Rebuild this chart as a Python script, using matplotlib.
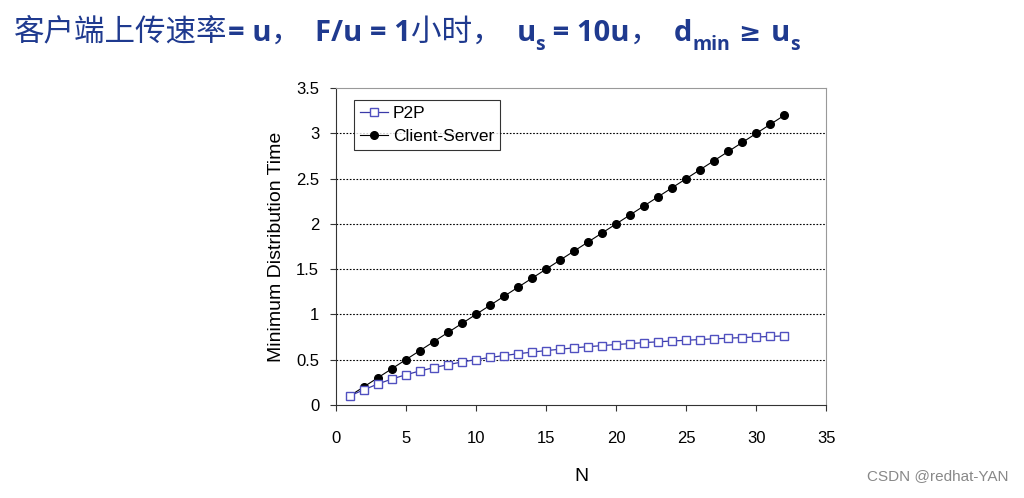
import matplotlib
matplotlib.use("Agg")
import matplotlib.pyplot as plt

plt.rcParams["font.family"] = ["Liberation Sans", "DejaVu Sans"]

n_peers = list(range(1, 33))
p2p_time = [0.100, 0.167, 0.231, 0.286, 0.333, 0.375, 0.412, 0.444, 0.474, 0.500,
            0.524, 0.545, 0.565, 0.583, 0.600, 0.615, 0.630, 0.643, 0.655, 0.667,
            0.677, 0.688, 0.697, 0.706, 0.714, 0.722, 0.730, 0.737, 0.744, 0.750,
            0.756, 0.762]
cs_time = [0.1, 0.2, 0.3, 0.4, 0.5, 0.6, 0.7, 0.8, 0.9, 1.0,
           1.1, 1.2, 1.3, 1.4, 1.5, 1.6, 1.7, 1.8, 1.9, 2.0,
           2.1, 2.2, 2.3, 2.4, 2.5, 2.6, 2.7, 2.8, 2.9, 3.0,
           3.1, 3.2]
y_ticks = [0, 0.5, 1, 1.5, 2, 2.5, 3, 3.5]
x_ticks = [0, 5, 10, 15, 20, 25, 30, 35]

# title pieces: (text, style)  style: cjk / latin / sub / sym
title_parts = [
    ("客户端上传速率", "cjk"),
    ("= u", "latin"),
    ("，  ", "cjk"),
    ("F/u = 1", "latin"),
    ("小时，  ", "cjk"),
    ("u", "latin"),
    ("s", "sub"),
    (" = 10u", "latin"),
    ("，  ", "cjk"),
    ("d", "latin"),
    ("min", "sub"),
    (" ≥ ", "sym"),
    ("u", "latin"),
    ("s", "sub"),
]

fig = plt.figure(figsize=(10.24, 4.98), dpi=100)
ax = fig.add_axes([0.328, 0.187, 0.479, 0.636])

ax.plot(n_peers, cs_time, color="black", lw=0.8, marker="o", ms=5.5,
        mfc="black", mec="black", label="Client-Server")
ax.plot(n_peers, p2p_time, color="#3a3aa8", lw=0.9, marker="s", ms=5.5,
        mfc="white", mec="#5050c0", mew=1.0, label="P2P")

ax.set_xlim(0, 35)
ax.set_ylim(0, 3.5)
ax.set_xticks(x_ticks)
ax.set_yticks(y_ticks)
ax.set_yticklabels(["0", "0.5", "1", "1.5", "2", "2.5", "3", "3.5"])
ax.tick_params(labelsize=12, length=4, direction="out", color="#333333")
ax.tick_params(axis="x", pad=15)
ax.tick_params(axis="y", pad=8)
for y in y_ticks[1:-1]:
    ax.axhline(y, color="black", lw=0.8, ls=(0, (1.5, 1.5)), zorder=0)
for side in ["top", "right"]:
    ax.spines[side].set_color("#999999")
ax.spines["left"].set_color("#333333")
ax.spines["bottom"].set_color("#333333")

ax.set_xlabel("N", fontsize=14, labelpad=16)
ax.set_ylabel("Minimum Distribution Time", fontsize=14, labelpad=8)

handles, labels = ax.get_legend_handles_labels()
leg = ax.legend(handles[::-1], labels[::-1], loc="upper left",
                bbox_to_anchor=(0.03, 0.975), fontsize=12.5, frameon=True,
                fancybox=False, edgecolor="black", handlelength=1.6,
                handletextpad=0.3, borderpad=0.35, labelspacing=0.45,
                borderaxespad=0.2)
leg.get_frame().set_linewidth(0.8)

# title drawn piece by piece so the subscripts sit lower
renderer = fig.canvas.get_renderer()
x = 14 / 1024
title_color = "#1f3a8f"
styles = {
    "cjk": dict(fontsize=22, fontweight="normal", y=0.918,
                family=["Noto Sans CJK SC", "DejaVu Sans"]),
    "latin": dict(fontsize=21, fontweight="bold", y=0.918,
                  family=["Open Sans", "DejaVu Sans"]),
    "sub": dict(fontsize=14, fontweight="bold", y=0.900,
                family=["Open Sans", "DejaVu Sans"]),
    "sym": dict(fontsize=19, fontweight="bold", y=0.918,
                family=["DejaVu Sans"]),
}
for text, style in title_parts:
    st = styles[style]
    t = fig.text(x, st["y"], text, fontsize=st["fontsize"], color=title_color,
                 fontweight=st["fontweight"], family=st["family"],
                 va="baseline")
    bb = t.get_window_extent(renderer)
    x = bb.x1 / fig.bbox.width

fig.text(0.985, 0.03, "CSDN @redhat-YAN", fontsize=11, color="#888888",
         ha="right", va="bottom")

fig.savefig("out.png", dpi=100)
